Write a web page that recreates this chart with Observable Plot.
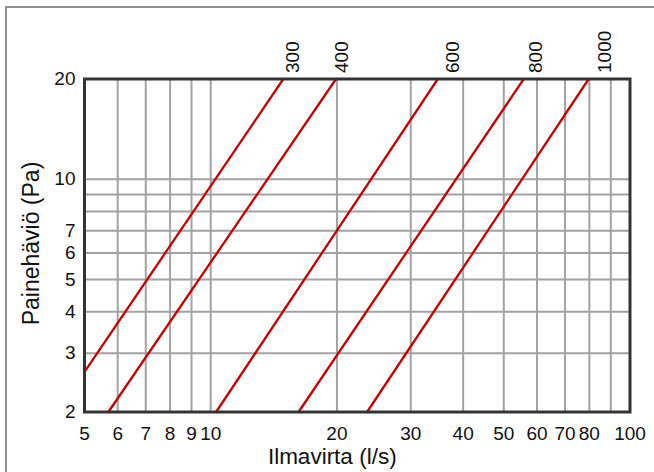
<!DOCTYPE html>
<html>
<head>
<meta charset="utf-8">
<script src="https://cdn.jsdelivr.net/npm/d3@7"></script>
<script src="https://cdn.jsdelivr.net/npm/@observablehq/plot@0.6"></script>
<style>
  html, body { margin: 0; padding: 0; background: #fff; overflow: hidden; }
  #wrap { position: relative; width: 654px; height: 472px; overflow: hidden; }
  #outer { position: absolute; left: 5px; top: 6px; width: 680px; height: 500px; border: 2px solid #8e8e8e; box-sizing: border-box; pointer-events: none; }
  #chart { position: absolute; left: 0; top: 0; }
</style>
</head>
<body>
<div id="wrap"><div id="outer"></div><div id="chart"></div></div>
<script>
// Duct diameters (mm)
const diameters = [300, 400, 600, 800, 1000];
// Line start (lower-left end) : airflow (l/s), pressure drop (Pa)
const flowStart = [5, 5.70, 10.3, 16.2, 23.6];
const pressStart = [2.64, 2, 2, 2, 2];
// Line end (upper-right end)
const flowEnd = [14.9, 19.9, 34.8, 55.8, 79.7];
const pressEnd = [20, 20, 20, 20, 20];
// Label positions along the top (airflow)
const labelFlow = [15.7, 20.6, 37.9, 59.7, 87.1];

const xTicks = [5, 6, 7, 8, 9, 10, 20, 30, 40, 50, 60, 70, 80, 100];
const yTicks = [2, 3, 4, 5, 6, 7, 10, 20];
const xGrid = [6, 7, 8, 9, 10, 20, 30, 40, 50, 60, 70, 80, 90];
const yGrid = [3, 4, 5, 6, 7, 8, 9, 10];

const xTitle = "Ilmavirta (l/s)";
const yTitle = "Painehäviö (Pa)";

const lineData = diameters.flatMap((d, i) => [
  {d, flow: flowStart[i], p: pressStart[i]},
  {d, flow: flowEnd[i], p: pressEnd[i]}
]);
const labelData = diameters.map((d, i) => ({d, flow: labelFlow[i]}));

const font = "'Liberation Sans', Arial, Helvetica, sans-serif";

const chart = Plot.plot({
  width: 654,
  height: 472,
  marginLeft: 84,
  marginRight: 24.5,
  marginTop: 78.5,
  marginBottom: 60.5,
  style: {fontFamily: font, fontSize: "18px", background: "transparent", color: "#111"},
  x: {type: "log", domain: [5, 100], axis: null},
  y: {type: "log", domain: [2, 20], axis: null},
  marks: [
    Plot.ruleX(xGrid, {stroke: "#a2a2a2", strokeWidth: 2}),
    Plot.ruleY(yGrid, {stroke: "#a2a2a2", strokeWidth: 2}),
    Plot.line(lineData, {x: "flow", y: "p", z: "d", stroke: "#c80000", strokeWidth: 2.3}),
    Plot.frame({stroke: "#333", strokeWidth: 3}),
    // x tick labels
    Plot.text(xTicks, {x: d => d, text: d => String(d), frameAnchor: "bottom", lineAnchor: "top", textAnchor: "middle", dy: 14, fontSize: 19, fill: "#111"}),
    // y tick labels
    Plot.text(yTicks, {y: d => d, text: d => String(d), frameAnchor: "left", lineAnchor: "middle", textAnchor: "end", dx: -9, fontSize: 19, fill: "#111"}),
    // diameter labels at top
    Plot.text(labelData, {x: "flow", text: d => String(d.d), frameAnchor: "top", lineAnchor: "middle", dy: -6, rotate: -90, textAnchor: "start", fontSize: 19, fill: "#111"}),
    // axis titles
    Plot.text([xTitle], {text: d => d, frameAnchor: "bottom", lineAnchor: "middle", textAnchor: "middle", dx: -25, dy: 44.5, fontSize: 22.5, fill: "#111"}),
    Plot.text([yTitle], {text: d => d, frameAnchor: "left", lineAnchor: "middle", textAnchor: "middle", dx: -53, dy: -2, rotate: -90, fontSize: 23, fill: "#111"})
  ]
});
document.getElementById("chart").appendChild(chart);
</script>
</body>
</html>
